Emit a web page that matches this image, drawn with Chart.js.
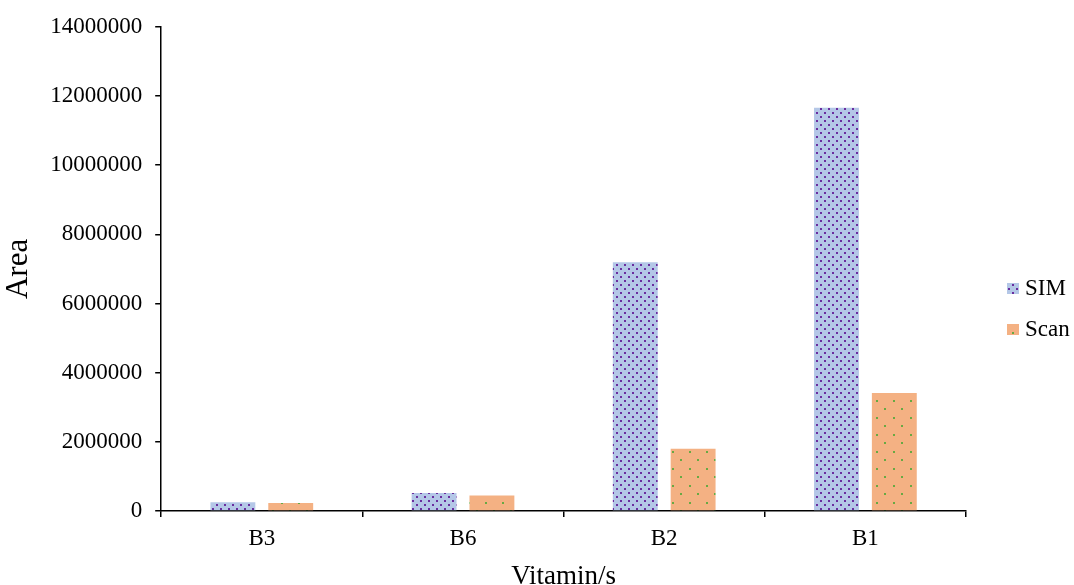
<!DOCTYPE html>
<html>
<head>
<meta charset="utf-8">
<script src="https://cdn.jsdelivr.net/npm/chart.js@4/dist/chart.umd.min.js"></script>
<style>
  html, body { margin: 0; padding: 0; background: #fff; }
  #wrap { width: 1074px; height: 585px; }
</style>
</head>
<body>
<div id="wrap"><canvas id="areaChart" width="1074" height="585"></canvas></div>
<script>
const vitamins = ['B3', 'B6', 'B2', 'B1'];
const simArea = [250000, 520000, 7190000, 11660000];
const scanArea = [230000, 450000, 1800000, 3410000];
const yTicks = [0, 2000000, 4000000, 6000000, 8000000, 10000000, 12000000, 14000000];

const serif = '"Liberation Serif", "Times New Roman", serif';

// dotted fills for the two series
function dotPattern(bg, dot, tile, size) {
    const c = document.createElement('canvas');
    c.width = tile; c.height = tile;
    const g = c.getContext('2d');
    g.fillStyle = bg;
    g.fillRect(0, 0, tile, tile);
    g.fillStyle = dot;
    const h = Math.round(tile / 2);
    g.fillRect(0, 0, size, size);
    g.fillRect(h, h, size, size);
    return g.createPattern(c, 'repeat');
}

const simFill = dotPattern('#b4c7e7', '#6a2d9f', 8, 2);
const scanFill = dotPattern('#f4b183', '#68a943', 17, 2);

// legend drawn to the right of the plot
const sideLegend = {
    id: 'sideLegend',
    afterDraw(chart) {
        const ctx = chart.ctx;
        const area = chart.chartArea;
        const x = area.right + 41;
        let y = 289;
        ctx.save();
        ctx.font = '23px ' + serif;
        ctx.textBaseline = 'middle';
        chart.data.datasets.forEach(ds => {
            ctx.fillStyle = ds.backgroundColor;
            ctx.fillRect(x, y - 6, 12, 11);
            ctx.fillStyle = '#000';
            ctx.fillText(ds.label, x + 18, y);
            y += 41;
        });
        ctx.restore();
    }
};

new Chart(document.getElementById('areaChart'), {
    type: 'bar',
    data: {
        labels: vitamins,
        datasets: [
            { label: 'SIM', data: simArea, backgroundColor: simFill, borderWidth: 0 },
            { label: 'Scan', data: scanArea, backgroundColor: scanFill, borderWidth: 0 }
        ]
    },
    options: {
        responsive: false,
        animation: false,
        devicePixelRatio: 1,
        layout: { padding: { left: 0, right: 108, top: 25, bottom: -8 } },
        datasets: { bar: { categoryPercentage: 0.575, barPercentage: 0.776 } },
        scales: {
            x: {
                border: { color: '#000', width: 1.5 },
                grid: { drawOnChartArea: false, drawTicks: true, tickLength: 6, color: '#000', lineWidth: 1.5 },
                ticks: { color: '#000', font: { family: serif, size: 23 }, padding: 8 },
                title: { display: true, text: 'Vitamin/s', color: '#000', font: { family: serif, size: 27 }, padding: { top: 0, bottom: 0 } }
            },
            y: {
                min: 0,
                max: 14000000,
                afterBuildTicks: axis => { axis.ticks = yTicks.map(v => ({ value: v })); },
                border: { color: '#000', width: 1.5 },
                grid: { drawOnChartArea: false, drawTicks: true, tickLength: 6, color: '#000', lineWidth: 1.5 },
                ticks: { color: '#000', font: { family: serif, size: 23 }, padding: 13, callback: v => String(v) },
                title: { display: true, text: 'Area', color: '#000', font: { family: serif, size: 31 }, padding: { top: 0, bottom: 0 } }
            }
        },
        plugins: {
            legend: { display: false },
            tooltip: { enabled: false }
        }
    },
    plugins: [sideLegend]
});
</script>
</body>
</html>
